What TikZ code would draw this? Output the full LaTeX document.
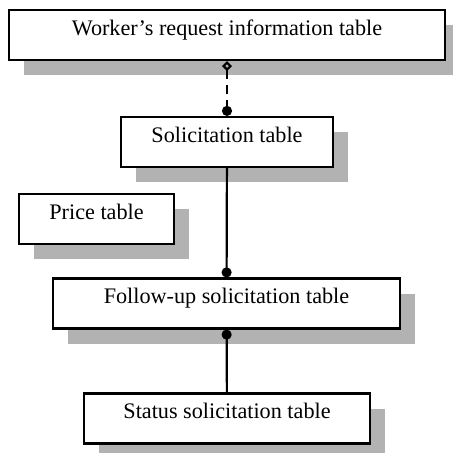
\documentclass[tikz,border=0pt]{standalone}
\usepackage{fontspec}
\setmainfont{Liberation Serif}
\usetikzlibrary{shadows}
\usetikzlibrary{arrows.meta}
\tikzstyle{tableau}=[
        draw,
        line width=1.1pt,
        fill=white,
        inner xsep=0pt,
        inner ysep=0pt,
        text height=12.5pt,
        text depth=12.5pt,
        minimum height=25pt,
        font=\fontsize{11.1}{13}\selectfont,
        drop shadow={shadow xshift=7.5pt,shadow yshift=-7.5pt,fill=black!30,opacity=1}
]
\tikzstyle{lien}=[line width=1.1pt]

\begin{document}
\begin{tikzpicture}[x=0.5pt,y=-0.5pt]
\useasboundingbox (0,0) rectangle (453,452);
\node[tableau,minimum width=218pt] (worker) at (227,35) {Worker’s request information table};
\node[tableau,minimum width=106pt] (solic) at (227,142) {Solicitation table};
\node[tableau,minimum width=77.5pt] (price) at (96.5,219) {Price table};
\node[tableau,minimum width=173.5pt] (follow) at (226.5,303.5) {Follow-up solicitation table};
\node[tableau,minimum width=143pt] (status) at (227,418.5) {Status solicitation table};
%liens
\draw[lien,dash pattern=on 4.5pt off 3pt,{Diamond[open,length=5pt,width=5pt]}-{Circle[length=5pt]}] (worker) -- (solic);
\draw[lien,-{Circle[length=5pt]}] (solic) -- (follow);
\draw[lien,{Circle[length=5pt]}-] (follow) -- (status);
\end{tikzpicture}
\end{document}
